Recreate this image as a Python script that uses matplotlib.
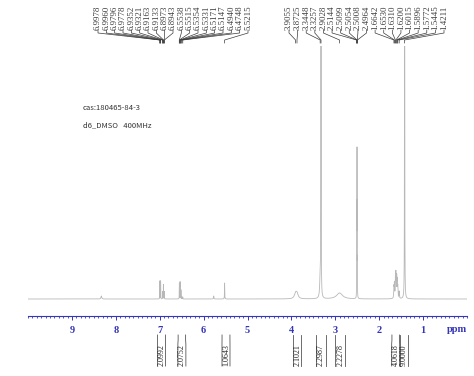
import numpy as np
import matplotlib
matplotlib.use("Agg")
import matplotlib.pyplot as plt

# --- Data ---

# peak picking labels (ppm), left group and right group
peaks_left = [6.9978, 6.9960, 6.9796, 6.9778, 6.9352, 6.9321, 6.9163, 6.9133,
              6.8973, 6.8943, 6.5538, 6.5515, 6.5354, 6.5331, 6.5171, 6.5147,
              6.4940, 6.4748, 5.5215]
peaks_right = [3.9055, 3.8725, 3.3448, 3.3257, 2.9028, 2.5144, 2.5099, 2.5054,
               2.5008, 2.4964, 1.6642, 1.6530, 1.6310, 1.6200, 1.6015, 1.5896,
               1.5772, 1.5445, 1.4211]

# lines making up the trace: position (ppm), height (px above baseline), half width (ppm)
line_ppm = [8.33, 6.9978, 6.9960, 6.9796, 6.9778, 6.9352, 6.9321, 6.9163, 6.9133,
            6.8973, 6.8943, 6.5538, 6.5515, 6.5354, 6.5331, 6.5171, 6.5147,
            6.4940, 6.4748, 5.77, 5.5215, 3.9055, 3.8725, 3.3448, 3.3257,
            2.9028, 2.5144, 2.5099, 2.5054, 2.5008, 2.4964, 1.6642, 1.6530,
            1.6310, 1.6200, 1.6015, 1.5896, 1.5772, 1.5445, 1.4211]
line_height = [3, 13, 11, 13, 11, 6, 6, 12, 12, 6, 6, 12, 12, 13, 13, 7, 7,
               2, 2, 3, 16, 5, 5, 20, 900, 6, 30, 80, 135, 80, 30,
               11, 14, 19, 23, 20, 16, 11, 7, 900]
line_width = [0.01, 0.0015, 0.0015, 0.0015, 0.0015, 0.0015, 0.0015, 0.0015, 0.0015,
              0.0015, 0.0015, 0.0015, 0.0015, 0.0015, 0.0015, 0.0015, 0.0015,
              0.002, 0.002, 0.005, 0.003, 0.03, 0.03, 0.012, 0.002,
              0.08, 0.0015, 0.0015, 0.0015, 0.0015, 0.0015, 0.005, 0.005,
              0.005, 0.005, 0.005, 0.005, 0.005, 0.005, 0.002]

# integrals: region (ppm) and value
int_from = [7.05, 6.58, 5.58, 3.96, 3.44, 3.00, 1.71, 1.53]
int_to = [6.87, 6.41, 5.40, 3.77, 3.22, 2.78, 1.54, 1.34]
int_value = ["2.0992", "2.0752", "1.0643", "2.1021", "2.2987", "2.2278",
             "4.0618", "9.0000"]

tick_ppm = [1, 2, 3, 4, 5, 6, 7, 8, 9]

# --- Style ---
W, H = 474, 376
AX_L, AX_R, AX_Y, AX_TOP = 28, 467, 316, 46
BLUE = "#3535b8"
TRACE = "#b8b8b8"
SERIF = "Liberation Serif"


def px(ppm):
    """ppm -> figure pixel x."""
    return AX_L + (10 - ppm) / 10 * (AX_R - AX_L)


fig = plt.figure(figsize=(W / 100, H / 100), dpi=100)

# spectrum
ax = fig.add_axes([AX_L / W, (H - AX_Y) / H, (AX_R - AX_L) / W, (AX_Y - AX_TOP) / H])
x = np.linspace(10, 0, 40000)
y = np.zeros_like(x)
for p, h, w in zip(line_ppm, line_height, line_width):
    y += h * w ** 2 / ((x - p) ** 2 + w ** 2)
ax.plot(x, y, color=TRACE, lw=0.6)
ax.set_xlim(10, 0)
ax.set_ylim(-17, AX_Y - AX_TOP - 17)
for s in ["top", "left", "right"]:
    ax.spines[s].set_visible(False)
ax.spines["bottom"].set_color(BLUE)
ax.spines["bottom"].set_linewidth(0.8)
ax.set_yticks([])
ax.set_xticks(tick_ppm)
ax.set_xticklabels([str(t) for t in tick_ppm], fontfamily=SERIF, fontsize=7.5,
                   color=BLUE, fontweight="bold")
ax.set_xticks(np.arange(0, 10.01, 0.1), minor=True)
ax.tick_params(axis="x", which="major", direction="out", length=3, width=0.7,
               color=BLUE, pad=4)
ax.tick_params(axis="x", which="minor", direction="out", length=1.5, width=0.6,
               color=BLUE)
ax.patch.set_alpha(0)

# overlay in pixel coordinates for annotations
ov = fig.add_axes([0, 0, 1, 1])
ov.set_xlim(0, W)
ov.set_ylim(H, 0)
ov.axis("off")
ov.patch.set_alpha(0)

ov.text(AX_R, 330, "ppm", ha="right", va="center", color=BLUE,
        fontfamily=SERIF, fontsize=7.5, fontweight="bold")

# peak labels
LAB = "#3c3c3c"
for group, x0, x1 in [(peaks_left, 98, 248), (peaks_right, 289, 444)]:
    for lx, p in zip(np.linspace(x0, x1, len(group)), group):
        ov.text(lx, 30, f"{p:.4f}", rotation=90, ha="center", va="bottom",
                fontfamily=SERIF, fontsize=6.4, color=LAB)
        ov.plot([lx, lx, px(p), px(p)], [30, 33, 40, 43], color=LAB, lw=0.5)

# sample info
ov.text(83, 108, "cas:180465-84-3", ha="left", va="center", fontsize=5.5,
        color="#333333", fontfamily=["Noto Sans CJK SC", "DejaVu Sans"])
ov.text(83, 125, "d6_DMSO   400MHz", ha="left", va="center", fontsize=5.5,
        color="#333333", fontfamily=["Noto Sans CJK SC", "DejaVu Sans"])

# integrals
for a, b, v in zip(int_from, int_to, int_value):
    xa, xb = px(a), px(b)
    mid = (xa + xb) / 2
    bw = 4
    la, lb = min(xa, mid - bw), max(xb, mid + bw)
    ov.plot([xa, xa, la, la], [335, 340, 344, 366], color="#555555", lw=0.6)
    ov.plot([xb, xb, lb, lb], [335, 340, 344, 366], color="#555555", lw=0.6)
    ov.text(mid, 355, v, rotation=90, ha="center", va="center",
            fontfamily=SERIF, fontsize=5.8, color="#222222")

fig.savefig("out.png", dpi=100)
